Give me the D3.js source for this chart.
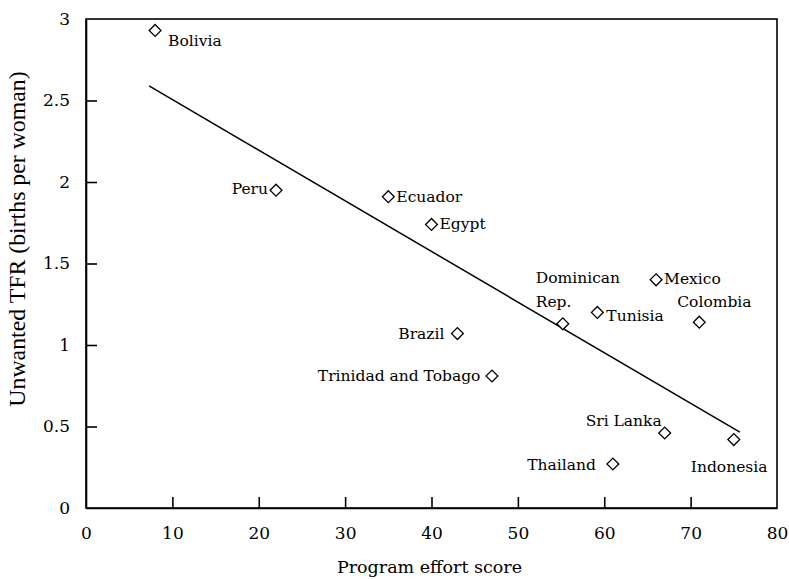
<!DOCTYPE html>
<html>
<head>
<meta charset="utf-8">
<script src="https://cdn.jsdelivr.net/npm/d3@7"></script>
<style>
    html, body { margin: 0; padding: 0; background: #fff; }
    svg { display: block; }
</style>
</head>
<body>
<div id="chart"></div>
<script>
// Country data (program effort score vs unwanted TFR)
const countries = ['Bolivia', 'Peru', 'Ecuador', 'Egypt', 'Dominican Rep.', 'Tunisia', 'Mexico',
    'Colombia', 'Brazil', 'Trinidad and Tobago', 'Sri Lanka', 'Thailand', 'Indonesia'];
const effortScores = [8, 22, 35, 40, 55.2, 59.2, 66, 71, 43, 47, 67, 61, 75];
const unwantedTFR = [2.93, 1.95, 1.91, 1.74, 1.13, 1.20, 1.40, 1.14, 1.07, 0.81, 0.46, 0.27, 0.42];

// Regression line end points
const fitX = [7.3, 75.7];
const fitY = [2.59, 0.465];

// Axis ticks
const xTicks = [0, 10, 20, 30, 40, 50, 60, 70, 80];
const yTicks = [0, 0.5, 1, 1.5, 2, 2.5, 3];

// Where each label goes relative to its marker (layout only)
const labelPlacement = {
    'Bolivia': {dx: 13, dy: 16, anchor: 'start'},
    'Peru': {dx: -8, dy: 4, anchor: 'end'},
    'Ecuador': {dx: 8, dy: 5, anchor: 'start'},
    'Egypt': {dx: 8, dy: 4.5, anchor: 'start'},
    'Dominican Rep.': {dx: -27, dy: -41, anchor: 'start', lines: ['Dominican', 'Rep.']},
    'Tunisia': {dx: 9, dy: 9, anchor: 'start'},
    'Mexico': {dx: 8, dy: 4, anchor: 'start'},
    'Colombia': {dx: -22, dy: -15, anchor: 'start'},
    'Brazil': {dx: -13, dy: 5, anchor: 'end'},
    'Trinidad and Tobago': {dx: -11.5, dy: 5, anchor: 'end'},
    'Sri Lanka': {dx: -3, dy: -7, anchor: 'end'},
    'Thailand': {dx: -17, dy: 6, anchor: 'end'},
    'Indonesia': {dx: -43, dy: 32, anchor: 'start'}
};

const width = 789, height = 579;
const plot = {left: 86, right: 777, top: 19, bottom: 508};
const labelFont = '"DejaVu Serif", serif';

const svg = d3.select('#chart').append('svg')
    .attr('width', width)
    .attr('height', height);

const xScale = d3.scaleLinear().domain([0, 80]).range([plot.left, plot.right]);
const yScale = d3.scaleLinear().domain([0, 3]).range([plot.bottom, plot.top]);

// frame
svg.append('rect')
    .attr('x', plot.left)
    .attr('y', plot.top)
    .attr('width', plot.right - plot.left)
    .attr('height', plot.bottom - plot.top)
    .attr('fill', 'none')
    .attr('stroke', '#000')
    .attr('stroke-width', 1.6);

// axes, ticks pointing inward
const xAxis = d3.axisBottom(xScale).tickValues(xTicks).tickSize(-11).tickSizeOuter(0).tickPadding(19)
    .tickFormat(d3.format('d'));
const gx = svg.append('g')
    .attr('transform', 'translate(0,' + plot.bottom + ')')
    .call(xAxis);

const yAxis = d3.axisLeft(yScale).tickValues(yTicks).tickSize(-11).tickSizeOuter(0).tickPadding(16)
    .tickFormat(d => String(d));
const gy = svg.append('g')
    .attr('transform', 'translate(' + plot.left + ',0)')
    .call(yAxis);

[gx, gy].forEach(g => {
    g.select('.domain').attr('stroke', '#000').attr('stroke-width', 1.6);
    g.selectAll('.tick line').attr('stroke', '#000').attr('stroke-width', 1.6);
    g.selectAll('.tick text')
        .attr('fill', '#000')
        .style('font-family', labelFont)
        .style('font-size', '17px');
});
// the end ticks sit on the frame, drop their marks
gy.selectAll('.tick').filter(d => d === 0 || d === 3).select('line').remove();
gx.selectAll('.tick').filter(d => d === 0 || d === 80).select('line').remove();

// regression line
const line = d3.line()
    .x(d => xScale(d[0]))
    .y(d => yScale(d[1]));
svg.append('path')
    .datum(fitX.map((v, i) => [v, fitY[i]]))
    .attr('d', line)
    .attr('fill', 'none')
    .attr('stroke', '#000')
    .attr('stroke-width', 1.5);

// points
const points = countries.map((name, i) => ({name: name, x: effortScores[i], y: unwantedTFR[i]}));
const diamond = d3.symbol().type(d3.symbolSquare).size(70);

svg.append('g').selectAll('path')
    .data(points)
    .enter()
    .append('path')
    .attr('d', diamond)
    .attr('transform', d => 'translate(' + xScale(d.x) + ',' + yScale(d.y) + ') rotate(45)')
    .attr('fill', '#fff')
    .attr('stroke', '#000')
    .attr('stroke-width', 1.3);

// labels
const labels = svg.append('g')
    .style('font-family', labelFont)
    .style('font-size', '15.5px')
    .attr('fill', '#000');

points.forEach(d => {
    const p = labelPlacement[d.name];
    const lines = p.lines || [d.name];
    lines.forEach((txt, k) => {
        labels.append('text')
            .attr('x', xScale(d.x) + p.dx)
            .attr('y', yScale(d.y) + p.dy + k * 24)
            .attr('text-anchor', p.anchor)
            .text(txt);
    });
});

// axis titles
svg.append('text')
    .attr('x', (plot.left + plot.right) / 2 - 2)
    .attr('y', 573)
    .attr('text-anchor', 'middle')
    .style('font-family', labelFont)
    .style('font-size', '17.5px')
    .text('Program effort score');

svg.append('text')
    .attr('transform', 'translate(25,239) rotate(-90)')
    .attr('text-anchor', 'middle')
    .style('font-family', '"Liberation Serif", serif')
    .style('font-size', '23.8px')
    .text('Unwanted TFR (births per woman)');
</script>
</body>
</html>
